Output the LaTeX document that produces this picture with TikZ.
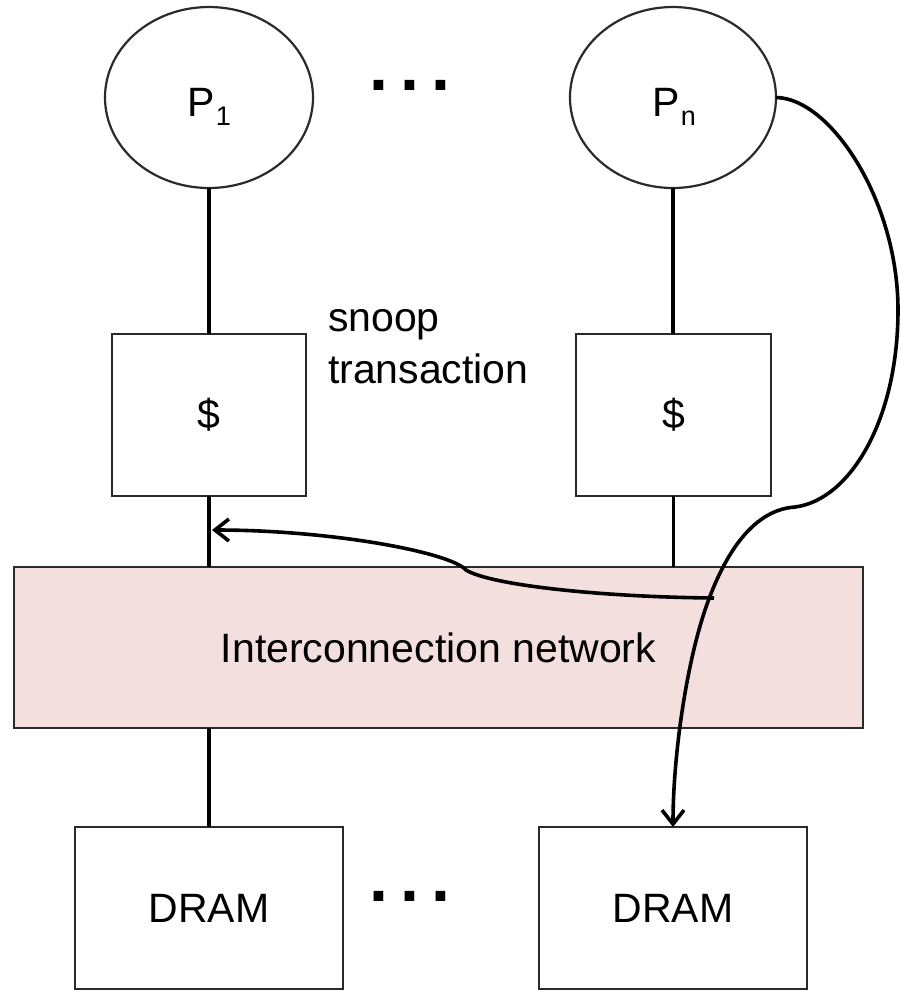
\documentclass[tikz,border=0pt]{standalone}
\usepackage{fontspec}
\setmainfont{Liberation Sans}
\usetikzlibrary{shapes.geometric,arrows.meta}
\definecolor{netfill}{HTML}{F3DFDE}
\definecolor{edge}{HTML}{2A2A2A}
\newcommand{\subsc}[1]{\kern0.6pt\raisebox{-4.6pt}{\fontsize{13.5}{13.5}\selectfont #1}}
\begin{document}
\begin{tikzpicture}[x=0.5pt,y=-0.5pt,
  every node/.style={font=\fontsize{20.5}{24}\selectfont, inner sep=0pt, outer sep=0pt},
  proc/.style={draw=edge, line width=1.1pt, ellipse, fill=white},
  box/.style={draw=edge, line width=1.1pt, rectangle, fill=white},
  link/.style={line width=1.7pt},
  flow/.style={line width=1.8pt, -{Straight Barb[length=7pt,width=11pt]}},
  dots/.style={font=\fontsize{34}{34}\selectfont\bfseries},
]
\useasboundingbox (0,0) rectangle (900,993);

% processors
\node[proc, minimum width=104pt, minimum height=90.5pt] (p1) at (209,97.5) {};
\node (p1t) at (209,107) {P\subsc{1}};
\node[proc, minimum width=103pt, minimum height=90.5pt] (pn) at (673,97.5) {};
\node (pnt) at (674,107) {P\subsc{n}};
\node[dots] (topdots) at (410,85) {.\kern6.2pt.\kern6.2pt.};

% caches
\node[box, minimum width=97pt, minimum height=81pt] (c1) at (209,415) {\$};
\node[box, minimum width=97.5pt, minimum height=81pt] (cn) at (673.5,415) {\$};

% interconnect
\node[box, fill=netfill, minimum width=424.5pt, minimum height=80.5pt] (net) at (438.5,647.5) {Interconnection network};

% memories
\node[box, minimum width=134pt, minimum height=81pt] (d1) at (209,908) {DRAM};
\node[box, minimum width=134pt, minimum height=81pt] (d2) at (673,908) {DRAM};
\node[dots] (botdots) at (410,896) {.\kern6.2pt.\kern6.2pt.};

% snoop label
\node[anchor=base west] (snoop) at (328,331) {snoop};
\node[anchor=base west] (trans) at (328,383) {transaction};

% wires
\draw[link] (p1.south) -- (c1.north);
\draw[link] (pn.south) -- (cn.north -| pn.south);
\draw[link] (c1.south) -- (c1.south |- net.north);
\draw[link] (cn.south) -- (cn.south |- net.north);
\draw[link] (net.south -| d1.north) -- (d1.north);

% request path from Pn to its memory
\coordinate (tap) at (714,598);
\coordinate (hit) at (212,530);
\draw[flow] (pn.east) .. controls (830,98) and (898,200) .. (898,310)
  .. controls (898,420) and (850,500) .. (795,507)
  .. controls (750,510) and (722,560) .. (705,610)
  .. controls (685,670) and (673,760) .. (d2.north);

% snooped transaction reaching the other cache
\draw[flow] (tap) .. controls (600,597) and (490,585) .. (466,570)
  .. controls (450,552) and (330,530) .. (hit);
\end{tikzpicture}
\end{document}
